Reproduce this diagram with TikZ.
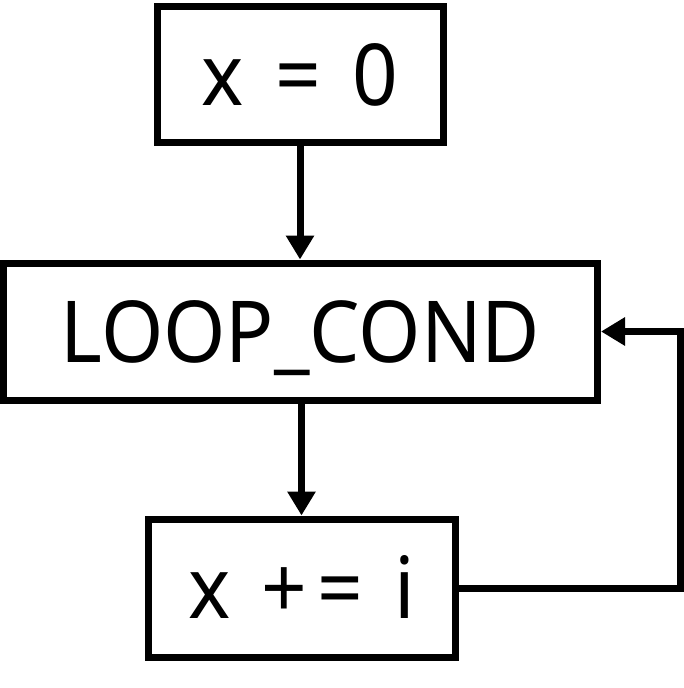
\documentclass[tikz,border=0pt]{standalone}
\usepackage{fontspec}
\setmainfont[FakeStretch=0.935,WordSpace=1.5]{Noto Sans}
\usetikzlibrary{arrows.meta}
\begin{document}
\begin{tikzpicture}[x=1pt,y=-1pt,
  box/.style={draw=black, line width=7pt, inner sep=0pt, font=\fontsize{85.5}{100}\selectfont,
    text height=61pt, text depth=0pt},
  conn/.style={draw=black, line width=7pt, -{Triangle[length=24pt,width=27pt]}}]
\useasboundingbox (0,0) rectangle (684,688);
\node[box, minimum width=286pt, minimum height=136pt] (b1) at (300,74.5) {x = 0};
\node[box, minimum width=594pt, minimum height=137pt] (b2) at (300.5,331.5) {LOOP\_COND};
\node[box, minimum width=307pt, minimum height=138pt] (b3) at (301.5,588) {x +\kern10pt= i};
\coordinate (c1) at (680,588);
\coordinate (c2) at (680,331.5);
\draw[conn] (b1.south) -- (b2.north -| b1.south);
\draw[conn] (b2.south -| b3.north) -- (b3.north);
\draw[conn] (b3.east) -- (c1) -- (c2) -- (b2.east);
\end{tikzpicture}
\end{document}
